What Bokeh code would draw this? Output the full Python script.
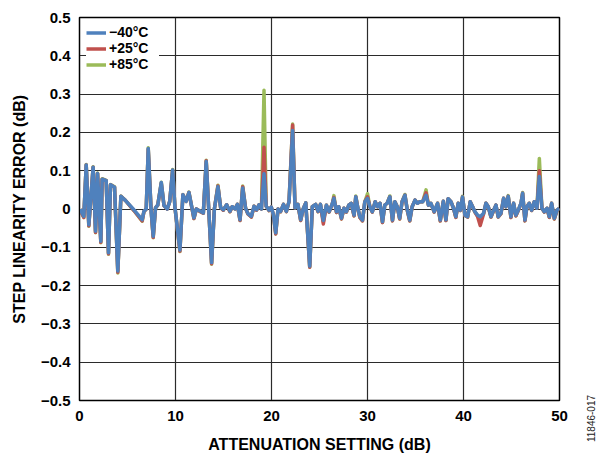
import math
from bokeh.plotting import figure
from bokeh.models import Range1d, FixedTicker, Legend, LegendItem, Label
from bokeh.embed import file_html
from bokeh.resources import INLINE

# Attenuation setting (dB)
X = [0.10, 0.25, 0.45, 0.70, 0.97, 1.42, 1.67, 1.88, 2.22, 2.36,
     2.78, 3.02, 3.23, 3.65, 3.99, 4.31, 4.80, 5.67, 6.53, 6.71,
     6.95, 7.16, 7.45, 7.68, 7.92, 8.15, 8.52, 8.80, 9.14, 9.40,
     9.70, 9.94, 10.46, 10.77, 11.10, 11.40, 11.92, 12.17, 12.60, 12.90,
     13.20, 13.45, 13.76, 14.05, 14.42, 14.70, 14.98, 15.33, 15.67, 15.90,
     16.20, 16.45, 16.72, 17.00, 17.30, 17.55, 17.90, 18.18, 18.45, 18.70,
     18.95, 19.22, 19.45, 19.74, 19.98, 20.20, 20.44, 20.68, 20.95, 21.25,
     21.55, 21.83, 22.20, 22.45, 22.75, 23.04, 23.30, 23.57, 23.98, 24.25,
     24.60, 24.85, 25.10, 25.40, 25.72, 26.00, 26.35, 26.50, 26.77, 27.00,
     27.29, 27.55, 27.80, 28.05, 28.30, 28.60, 28.78, 29.00, 29.20, 29.48,
     29.72, 30.00, 30.25, 30.50, 30.80, 31.05, 31.30, 31.56, 31.80, 32.05,
     32.33, 32.60, 32.85, 33.10, 33.35, 33.60, 33.90, 34.15, 34.40, 34.65,
     34.95, 35.20, 35.45, 35.75, 36.10, 36.35, 36.60, 36.95, 37.30, 37.58,
     37.90, 38.17, 38.40, 38.69, 38.96, 39.20, 39.45, 39.66, 39.90, 40.15,
     40.43, 40.70, 40.95, 41.19, 41.47, 41.74, 42.09, 42.34, 42.58, 42.86,
     43.14, 43.38, 43.62, 43.90, 44.18, 44.42, 44.66, 44.94, 45.22, 45.46,
     45.70, 45.99, 46.16, 46.40, 46.61, 46.85, 47.10, 47.37, 47.65, 47.90,
     48.17, 48.42, 48.70, 48.94, 49.18, 49.46, 49.74, 49.98]

# Step linearity error (dB), -40 C
ERR_M40 = [0.000, -0.010, -0.019, 0.115, -0.041, 0.109, -0.058, 0.093, -0.084, 0.078,
           0.074, -0.114, 0.063, 0.057, -0.162, 0.033, 0.022, -0.002, -0.028, -0.006,
           0.000, 0.158, 0.000, -0.071, 0.003, 0.010, 0.069, 0.009, 0.000, 0.020,
           0.102, 0.005, -0.107, 0.037, 0.020, 0.043, -0.023, 0.000, -0.006, -0.010,
           0.124, 0.005, -0.140, 0.000, 0.058, 0.004, -0.002, 0.011, -0.006, 0.006,
           0.000, 0.012, -0.028, 0.055, 0.002, -0.012, -0.019, 0.007, -0.002, 0.011,
           0.000, 0.092, 0.007, -0.003, 0.005, -0.015, -0.062, 0.000, -0.006, 0.012,
           -0.006, 0.020, 0.205, 0.003, 0.012, -0.028, 0.000, 0.016, -0.149, 0.006,
           0.012, -0.006, 0.012, -0.030, 0.010, -0.007, 0.015, 0.028, -0.007, 0.006,
           -0.024, 0.002, -0.007, 0.010, 0.015, -0.016, 0.032, 0.002, -0.020, -0.029,
           0.019, 0.028, 0.006, -0.007, 0.019, 0.006, 0.015, -0.033, 0.010, 0.015,
           0.032, -0.029, 0.019, 0.006, -0.024, 0.019, 0.036, -0.003, -0.029, 0.006,
           0.023, 0.015, 0.019, 0.019, 0.036, 0.010, 0.015, -0.007, 0.015, -0.029,
           0.020, -0.028, 0.027, 0.019, 0.002, -0.020, 0.015, -0.003, 0.031, -0.016,
           -0.020, 0.019, 0.006, -0.007, -0.016, -0.020, -0.011, 0.015, 0.006, -0.020,
           -0.003, 0.010, -0.020, -0.011, 0.028, 0.006, 0.033, -0.020, 0.015, -0.016,
           -0.003, 0.015, 0.041, -0.029, 0.006, 0.015, -0.003, 0.019, 0.002, 0.085,
           0.002, -0.007, 0.002, -0.020, 0.015, -0.024, -0.003, 0.002]

# Step linearity error (dB), +25 C
ERR_P25 = [0.000, -0.012, -0.022, 0.115, -0.044, 0.109, -0.061, 0.093, -0.087, 0.078,
           0.074, -0.117, 0.063, 0.057, -0.165, 0.033, 0.022, -0.004, -0.031, -0.007,
           0.000, 0.156, 0.000, -0.074, 0.003, 0.010, 0.067, 0.009, 0.000, 0.020,
           0.101, 0.005, -0.110, 0.037, 0.020, 0.043, -0.025, 0.000, -0.007, -0.011,
           0.126, 0.005, -0.143, 0.000, 0.060, 0.004, -0.003, 0.011, -0.007, 0.006,
           0.000, 0.012, -0.030, 0.058, 0.002, -0.013, -0.021, 0.007, -0.003, 0.011,
           0.000, 0.161, 0.007, -0.004, 0.005, -0.016, -0.065, 0.000, -0.007, 0.012,
           -0.007, 0.020, 0.219, 0.003, 0.012, -0.030, 0.000, 0.016, -0.152, 0.006,
           0.012, -0.007, 0.012, -0.039, 0.010, -0.008, 0.015, 0.030, -0.009, 0.006,
           -0.026, 0.002, -0.008, 0.010, 0.015, -0.018, 0.032, 0.002, -0.022, -0.031,
           0.019, 0.032, 0.006, -0.008, 0.019, 0.006, 0.015, -0.035, 0.010, 0.015,
           0.032, -0.031, 0.019, 0.006, -0.026, 0.019, 0.036, -0.004, -0.031, 0.006,
           0.023, 0.015, 0.019, 0.019, 0.042, 0.010, 0.015, -0.008, 0.015, -0.031,
           0.020, -0.030, 0.027, 0.019, 0.002, -0.022, 0.015, -0.004, 0.031, -0.017,
           -0.021, 0.019, 0.006, -0.008, -0.020, -0.043, -0.013, 0.015, 0.006, -0.021,
           -0.004, 0.010, -0.021, -0.012, 0.028, 0.006, 0.033, -0.022, 0.015, -0.018,
           -0.004, 0.015, 0.041, -0.031, 0.006, 0.015, -0.004, 0.019, 0.002, 0.100,
           0.002, -0.008, 0.002, -0.022, 0.015, -0.026, -0.004, 0.002]

# Step linearity error (dB), +85 C
ERR_P85 = [0.000, -0.012, -0.022, 0.116, -0.045, 0.110, -0.062, 0.094, -0.088, 0.079,
           0.075, -0.118, 0.064, 0.058, -0.167, 0.034, 0.022, -0.004, -0.032, -0.007,
           0.000, 0.160, 0.000, -0.075, 0.003, 0.010, 0.070, 0.009, 0.000, 0.020,
           0.103, 0.005, -0.111, 0.038, 0.020, 0.044, -0.025, 0.000, -0.007, -0.011,
           0.127, 0.005, -0.144, 0.000, 0.062, 0.004, -0.003, 0.011, -0.007, 0.006,
           0.000, 0.012, -0.030, 0.060, 0.002, -0.013, -0.021, 0.007, -0.003, 0.011,
           0.000, 0.310, 0.007, -0.004, 0.005, -0.016, -0.065, 0.000, -0.007, 0.012,
           -0.007, 0.020, 0.222, 0.003, 0.012, -0.030, 0.000, 0.016, -0.152, 0.006,
           0.012, -0.007, 0.012, -0.034, 0.010, -0.008, 0.015, 0.035, -0.009, 0.006,
           -0.026, 0.002, -0.008, 0.010, 0.015, -0.018, 0.034, 0.002, -0.022, -0.031,
           0.019, 0.040, 0.006, -0.008, 0.019, 0.006, 0.015, -0.035, 0.010, 0.015,
           0.034, -0.031, 0.019, 0.006, -0.026, 0.019, 0.038, -0.004, -0.031, 0.006,
           0.023, 0.015, 0.019, 0.019, 0.050, 0.010, 0.015, -0.008, 0.015, -0.031,
           0.020, -0.030, 0.027, 0.019, 0.002, -0.022, 0.015, -0.004, 0.033, -0.017,
           -0.021, 0.019, 0.006, -0.008, -0.018, -0.024, -0.013, 0.015, 0.006, -0.021,
           -0.004, 0.010, -0.021, -0.012, 0.028, 0.006, 0.035, -0.022, 0.015, -0.018,
           -0.004, 0.015, 0.043, -0.031, 0.006, 0.015, -0.004, 0.019, 0.002, 0.132,
           0.002, -0.008, 0.002, -0.022, 0.015, -0.026, -0.004, 0.002]

SERIES_NAMES = ["\u221240\u00b0C", "+25\u00b0C", "+85\u00b0C"]
SERIES_COLORS = ["#4F81BD", "#C0504D", "#9BBB59"]

X_TICKS = [0, 10, 20, 30, 40, 50]
Y_TICKS = [-0.5, -0.4, -0.3, -0.2, -0.1, 0, 0.1, 0.2, 0.3, 0.4, 0.5]
Y_LABELS = ["\u22120.5", "\u22120.4", "\u22120.3", "\u22120.2", "\u22120.1", "0",
            "0.1", "0.2", "0.3", "0.4", "0.5"]
FIG_ID = "11846-017"

FONT = "Liberation Sans"

p = figure(width=604, height=455, output_backend="svg", toolbar_location=None,
           x_range=Range1d(0, 50), y_range=Range1d(-0.5, 0.5),
           min_border_left=79, min_border_right=45, min_border_top=17,
           min_border_bottom=53)

p.outline_line_color = "black"
p.outline_line_width = 1.5
p.background_fill_color = "white"
p.border_fill_color = "white"

p.xaxis.ticker = FixedTicker(ticks=X_TICKS)
p.yaxis.ticker = FixedTicker(ticks=Y_TICKS)
p.yaxis.major_label_overrides = {t: l for t, l in zip(Y_TICKS, Y_LABELS)}
p.xgrid.ticker = FixedTicker(ticks=X_TICKS)
p.ygrid.ticker = FixedTicker(ticks=Y_TICKS)
for g in (p.xgrid, p.ygrid):
    g.grid_line_color = "#2b2b2b"
    g.grid_line_width = 1.2

for ax in (p.xaxis, p.yaxis):
    ax.axis_line_color = "black"
    ax.major_tick_out = 0
    ax.major_tick_in = 0
    ax.minor_tick_out = 0
    ax.minor_tick_in = 0
    ax.major_label_text_font = FONT
    ax.major_label_text_font_style = "bold"
    ax.major_label_text_font_size = "15px"
    ax.major_label_text_color = "black"
    ax.axis_label_text_font = FONT
    ax.axis_label_text_font_style = "bold"
    ax.axis_label_text_font_size = "16px"
    ax.axis_label_text_color = "black"

p.xaxis.axis_label = "ATTENUATION SETTING (dB)"
p.yaxis.axis_label = "STEP LINEARITY ERROR (dB)"
p.xaxis.major_label_standoff = 10
p.xaxis.axis_label_standoff = 12
p.yaxis.major_label_standoff = 9
p.yaxis.axis_label_standoff = 10

ys = [ERR_M40, ERR_P25, ERR_P85]
renderers = {}
for i in (2, 1, 0):
    r = p.line(X, ys[i], line_color=SERIES_COLORS[i], line_width=3.5,
               line_join="round")
    renderers[i] = r

legend = Legend(items=[LegendItem(label=SERIES_NAMES[i], renderers=[renderers[i]])
                       for i in (0, 1, 2)],
                location="top_left")
legend.margin = 7
legend.padding = 0
legend.spacing = 0
legend.glyph_width = 20
legend.glyph_height = 13
legend.label_height = 13
legend.label_standoff = 3
legend.label_width = 50
legend.label_text_font = FONT
legend.label_text_font_style = "bold"
legend.label_text_font_size = "14px"
legend.label_text_color = "black"
legend.border_line_color = None
legend.background_fill_color = "white"
legend.background_fill_alpha = 1.0
p.add_layout(legend, "center")

lab = Label(x=53.3, y=-0.547, text=FIG_ID, angle=math.pi / 2,
            text_font=FONT, text_font_size="10px", text_color="#222222",
            text_align="center", text_baseline="middle")
p.add_layout(lab, "right")

open("out.html", "w").write(file_html(p, INLINE))
